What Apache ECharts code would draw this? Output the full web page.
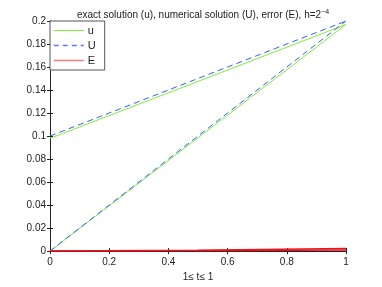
<!DOCTYPE html>
<html><head><meta charset="utf-8">
<script src="https://cdn.jsdelivr.net/npm/echarts@6/dist/echarts.min.js"></script>
<style>html,body{margin:0;padding:0;background:#fff}#c{width:382px;height:287px}</style>
</head><body><div id="c"></div>
<script>
var t = [0, 0.5, 1];
var uUpper = [0.098, 0.1475, 0.197];
var uLower = [0, 0.0985, 0.197];
var UUpper = [0.1, 0.15, 0.2];
var ULower = [0, 0.1, 0.2];
var EUpper = [0, 0.0008, 0.0022];
var ELower = [0, 0.0004, 0.001];
var xTicks = [0, 0.2, 0.4, 0.6, 0.8, 1];
var yTicks = [0, 0.02, 0.04, 0.06, 0.08, 0.1, 0.12, 0.14, 0.16, 0.18, 0.2];

function pairs(xs, ys){ return xs.map(function(x,i){return [x, ys[i]];}); }
var font = 'Liberation Sans, Arial, sans-serif';
var green = '#7cf03c', blue = '#3a5cff', red = '#e8141c';

function line(name, data, color, dashed, w){
  return {name:name, type:'line', data:data, symbol:'none', showSymbol:false, silent:true,
    lineStyle:{color:color, width:w||1, type: dashed ? [6,4] : 'solid'}, itemStyle:{color:color}, z:3};
}

var chart = echarts.init(document.getElementById('c'), null, {renderer:'canvas'});
chart.setOption({
  animation:false,
  backgroundColor:'#fff',
  title:{text:'exact solution (u), numerical solution (U), error (E), h=2{sup|−4}', left:198, textAlign:'center', top:4,
    textStyle:{fontFamily:font, fontSize:10, fontWeight:'normal', color:'#222', rich:{sup:{fontSize:7, verticalAlign:'top', padding:[0,0,6,0], fontFamily:font, color:'#222'}}}},
  grid:{left:50, right:36, top:21, bottom:33, containLabel:false},
  legend:{left:50, top:21, orient:'vertical', itemWidth:30, itemHeight:10, itemGap:4,
    padding:[4,9,4,3], borderColor:'#555', borderWidth:1, backgroundColor:'#fff',
    itemStyle:{opacity:0},
    textStyle:{fontFamily:font, fontSize:11, color:'#222', padding:[0,0,0,-1]},
    data:[
      {name:'u', lineStyle:{width:1, color:green}},
      {name:'U', lineStyle:{width:1.4, color:'#5a78ff', type:[5,4]}},
      {name:'E', lineStyle:{width:1.5, color:'#f08080'}}
    ]},
  xAxis:[{type:'value', min:0, max:1, interval:0.2, position:'bottom',
      name:'1≤ t≤ 1', nameLocation:'middle', nameGap:19, nameTextStyle:{fontFamily:font, fontSize:10, color:'#222'},
      axisLine:{lineStyle:{color:'#222'}}, axisTick:{inside:true, length:3, lineStyle:{color:'#222'}},
      axisLabel:{fontFamily:font, fontSize:10, color:'#222', margin:6, formatter:function(v){return String(+v.toFixed(2));}},
      splitLine:{show:false}},
    {type:'value', min:0, max:1, interval:0.2, position:'top',
      axisLine:{lineStyle:{color:'#222'}}, axisTick:{inside:true, length:3, lineStyle:{color:'#222'}},
      axisLabel:{show:false}, splitLine:{show:false}}],
  yAxis:[{type:'value', min:0, max:0.2, interval:0.02, position:'left',
      axisLine:{show:true, lineStyle:{color:'#222'}}, axisTick:{show:true, inside:true, length:3, lineStyle:{color:'#222'}},
      axisLabel:{fontFamily:font, fontSize:10, color:'#222', margin:4, formatter:function(v){return String(+v.toFixed(2));}},
      splitLine:{show:false}},
    {type:'value', min:0, max:0.2, interval:0.02, position:'right',
      axisLine:{show:true, lineStyle:{color:'#222'}}, axisTick:{show:true, inside:true, length:3, lineStyle:{color:'#222'}},
      axisLabel:{show:false}, splitLine:{show:false}}],
  series:[
    line('u', pairs(t, uUpper), green, false),
    line('u', pairs(t, uLower), green, false),
    line('U', pairs(t, UUpper), blue, true),
    line('U', pairs(t, ULower), blue, true),
    line('E', pairs(t, EUpper), red, false, 1.5),
    line('E', pairs(t, ELower), red, false, 1.5)
  ]
});
</script></body></html>
